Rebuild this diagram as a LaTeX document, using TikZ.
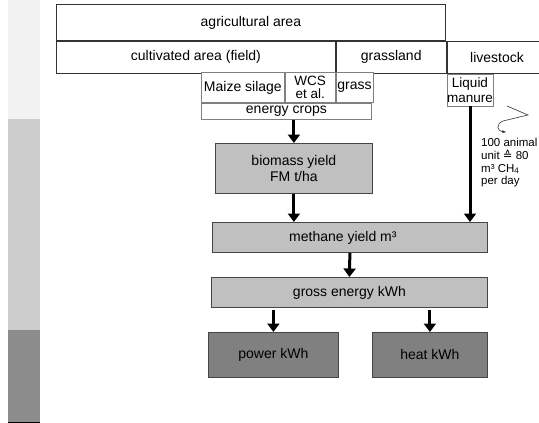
\documentclass[tikz,border=0pt]{standalone}
\usepackage{fontspec}
\setmainfont{Liberation Sans}
\newfontfamily\symfont{DejaVu Sans}
\usepackage{tikz}
\usetikzlibrary{arrows.meta,positioning,calc}
\definecolor{barlight}{HTML}{F2F2F2}
\definecolor{barmid}{HTML}{CCCCCC}
\definecolor{bardark}{HTML}{8C8C8C}
\definecolor{yieldfill}{HTML}{C0C0C0}
\definecolor{outfill}{HTML}{808080}
\definecolor{edge}{HTML}{454545}
\tikzset{
  box/.style={draw=edge,line width=0.8pt,inner sep=0pt,anchor=north west,align=center,
    font=\fontsize{14}{16}\selectfont},
  areabox/.style={box,draw=black!80,fill=white},
  cropbox/.style={box,draw=black!50,fill=white},
  yieldbox/.style={box,fill=yieldfill},
  outbox/.style={box,fill=outfill},
  arrow/.style={-{Triangle[length=8.5pt,width=12pt]},line width=3pt,black},
  curl/.style={-{Stealth[length=4pt]},draw=black!80,line width=0.6pt},
  note/.style={font=\fontsize{11.5}{12.8}\selectfont,align=left,anchor=north west,inner sep=0pt}
}

\begin{document}
\begin{tikzpicture}[x=1pt,y=-1pt]
  \useasboundingbox (0,0) rectangle (539,423);
  \fill[barlight] (8,0) rectangle (40,119);
  \fill[barmid] (8,119) rectangle (40,330);
  \fill[bardark] (8,330) rectangle (40,422);
  \draw[black,line width=1pt] (8,422) -- (40,422);

  \node[areabox,minimum width=389,minimum height=36] (agri) at (56,4) {agricultural area};
  \node[areabox,minimum width=279,minimum height=32] (cult) at (agri.south west) {cultivated area (field)};
  \node[areabox,minimum width=110,minimum height=32] (grassland) at (cult.north east) {grassland};
  \begin{scope}
    \clip (0,0) rectangle (539,423);
    \node[areabox,minimum width=100,minimum height=32] (live) at (grassland.north east) {livestock};
  \end{scope}

  \node[cropbox,minimum width=83,minimum height=30] (maize) at (201,72) {Maize silage};
  \node[cropbox,minimum width=50,minimum height=30,font=\fontsize{13.5}{13}\selectfont] (wcs) at (maize.north east) {WCS\\et al.};
  \node[cropbox,minimum width=37,minimum height=30] (grass) at (wcs.north east) {grass};
  \node[cropbox,minimum width=170,minimum height=16] (crops) at (maize.south west) {energy crops};
  \node[cropbox,minimum width=46,minimum height=32,font=\fontsize{13.5}{15}\selectfont] (manure) at (live.south west) {Liquid\\manure};

  \node[yieldbox,minimum width=157,minimum height=50] (biomass) at (215,143) {biomass yield\\FM t/ha};
  \node[yieldbox,minimum width=275,minimum height=30] (methane) at (212,222) {methane yield m³\hspace*{14pt}};
  \node[yieldbox,minimum width=276,minimum height=30] (gross) at (211,277) {gross energy kWh};
  \node[outbox,minimum width=130,minimum height=45] (power) at (208,332) {power kWh};
  \node[outbox,minimum width=115,minimum height=45] (heat) at (372,332) {heat kWh};

  \draw[arrow] (biomass.north |- crops.south) -- (biomass.north);
  \draw[arrow] (biomass.south) -- (biomass.south |- methane.north);
  \draw[arrow] (manure.south) -- (manure.south |- methane.north);
  \draw[arrow] (methane.south) -- (gross.north);
  \draw[arrow,shorten <=2pt] (power.north |- gross.south) -- (power.north);
  \draw[arrow,shorten <=2pt] (heat.north |- gross.south) -- (heat.north);

  \coordinate (twist) at (507,106);
  \draw[curl] (twist) -- (528,115) -- (503,121) .. controls (496,124) and (496,131) .. (506,132);
  \node[note] (unit) at (481,138) {100 animal\\unit {\symfont ≙} 80\\m³ CH\textsubscript{4}\\per day};
\end{tikzpicture}
\end{document}
